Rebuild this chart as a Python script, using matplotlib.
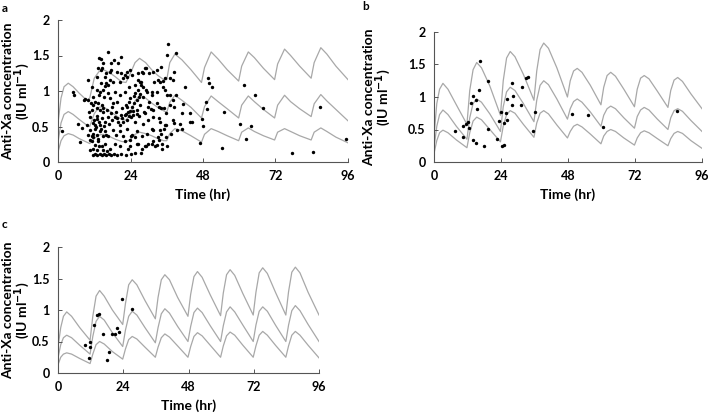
import matplotlib
matplotlib.use("Agg")
import matplotlib.pyplot as plt

# ---- data: simulated percentile curves (hr, IU/ml) ----
# panel a
a_curve_t = [0, 1, 2, 3.4, 5, 7, 9.5, 10.5, 12, 13.5, 15, 17, 19, 21, 22.5, 24, 25.5, 27, 29, 31, 33, 35,
             36, 37, 38.7, 41, 44, 47.5, 48.5, 50.7, 53, 56, 59.8, 60.8, 63, 65, 68, 71.7, 72.7, 75, 77,
             80, 83.8, 84.8, 87, 89, 92, 96]
a_upper = [0.55, 0.9, 1.06, 1.11, 1.06, 0.97, 0.87, 0.9, 1.18, 1.27, 1.3, 1.26, 1.2, 1.13, 1.12, 1.25,
           1.4, 1.46, 1.4, 1.3, 1.22, 1.16, 1.16, 1.4, 1.52, 1.44, 1.3, 1.12, 1.33, 1.55, 1.45, 1.3, 1.14,
           1.35, 1.55, 1.47, 1.32, 1.16, 1.38, 1.59, 1.5, 1.35, 1.18, 1.4, 1.61, 1.52, 1.35, 1.16]
a_median = [0.28, 0.55, 0.67, 0.71, 0.67, 0.6, 0.52, 0.5, 0.68, 0.77, 0.78, 0.72, 0.66, 0.6, 0.59, 0.68,
            0.86, 0.94, 0.9, 0.83, 0.77, 0.72, 0.7, 0.84, 0.94, 0.87, 0.77, 0.62, 0.78, 0.93, 0.85, 0.75,
            0.62, 0.8, 0.93, 0.85, 0.74, 0.62, 0.8, 0.94, 0.85, 0.75, 0.64, 0.82, 0.95, 0.86, 0.74, 0.58]
a_lower = [0.14, 0.3, 0.37, 0.4, 0.38, 0.33, 0.28, 0.26, 0.33, 0.38, 0.39, 0.36, 0.32, 0.29, 0.28, 0.32,
           0.39, 0.42, 0.4, 0.37, 0.33, 0.3, 0.3, 0.4, 0.47, 0.44, 0.37, 0.28, 0.39, 0.47, 0.43, 0.37,
           0.3, 0.42, 0.48, 0.43, 0.37, 0.31, 0.42, 0.47, 0.43, 0.37, 0.31, 0.42, 0.48, 0.43, 0.35, 0.27]

# panels b and c share the same time grid (12 h dosing)
bc_curve_t = [0, 1, 2, 3.2, 5, 8, 11.8, 12.8, 14, 15.3, 17, 20, 23.8, 24.8, 26, 27.3, 29, 32, 35.8, 36.8,
              38, 39.3, 41, 44, 47.8, 48.8, 50, 51.3, 53, 56, 59.8, 60.8, 62, 63.3, 65, 68, 71.8, 72.8,
              74, 75.3, 77, 80, 83.8, 84.8, 86, 87.3, 89, 92, 96]
b_upper = [0.4, 0.9, 1.12, 1.21, 1.12, 0.88, 0.58, 1.1, 1.42, 1.53, 1.45, 1.17, 0.72, 1.25, 1.6, 1.7,
           1.62, 1.35, 0.95, 1.4, 1.73, 1.83, 1.75, 1.45, 1.0, 1.25, 1.4, 1.44, 1.38, 1.18, 0.88, 1.15,
           1.33, 1.38, 1.32, 1.12, 0.85, 1.12, 1.29, 1.33, 1.28, 1.09, 0.84, 1.1, 1.26, 1.3, 1.24, 1.05, 0.82]
b_median = [0.22, 0.55, 0.73, 0.8, 0.73, 0.55, 0.35, 0.68, 0.9, 0.97, 0.92, 0.74, 0.47, 0.85, 1.08, 1.15,
            1.1, 0.9, 0.62, 0.95, 1.18, 1.25, 1.19, 0.97, 0.66, 0.82, 0.93, 0.97, 0.92, 0.77, 0.55, 0.72,
            0.82, 0.86, 0.82, 0.68, 0.52, 0.7, 0.8, 0.84, 0.8, 0.66, 0.5, 0.68, 0.79, 0.82, 0.78, 0.64, 0.47]
b_lower = [0.13, 0.33, 0.45, 0.49, 0.45, 0.34, 0.22, 0.45, 0.63, 0.69, 0.65, 0.5, 0.31, 0.55, 0.73, 0.79,
           0.75, 0.58, 0.38, 0.6, 0.75, 0.79, 0.74, 0.57, 0.37, 0.47, 0.55, 0.58, 0.54, 0.43, 0.28, 0.4,
           0.47, 0.5, 0.47, 0.37, 0.26, 0.37, 0.45, 0.48, 0.45, 0.36, 0.25, 0.36, 0.44, 0.47, 0.44, 0.33, 0.21]
c_upper = [0.41, 0.72, 0.9, 0.97, 0.9, 0.72, 0.52, 0.9, 1.22, 1.31, 1.22, 1.0, 0.77, 1.1, 1.4, 1.48,
           1.4, 1.15, 0.86, 1.2, 1.48, 1.56, 1.48, 1.2, 0.9, 1.25, 1.53, 1.61, 1.52, 1.24, 0.91, 1.27,
           1.56, 1.64, 1.55, 1.26, 0.92, 1.28, 1.59, 1.67, 1.58, 1.28, 0.92, 1.29, 1.6, 1.68, 1.59, 1.28, 0.92]
c_median = [0.24, 0.45, 0.56, 0.6, 0.56, 0.44, 0.3, 0.58, 0.82, 0.9, 0.84, 0.64, 0.42, 0.68, 0.9, 0.98,
            0.92, 0.72, 0.48, 0.72, 0.94, 1.02, 0.95, 0.74, 0.5, 0.74, 0.96, 1.03, 0.96, 0.75, 0.5, 0.75,
            0.97, 1.05, 0.97, 0.76, 0.5, 0.76, 0.98, 1.05, 0.98, 0.76, 0.5, 0.76, 0.99, 1.07, 0.99, 0.77, 0.5]
c_lower = [0.13, 0.25, 0.3, 0.32, 0.3, 0.23, 0.15, 0.3, 0.45, 0.5, 0.46, 0.34, 0.22, 0.38, 0.53, 0.58,
           0.54, 0.41, 0.25, 0.41, 0.56, 0.62, 0.57, 0.43, 0.25, 0.42, 0.58, 0.64, 0.59, 0.44, 0.25, 0.43,
           0.59, 0.65, 0.6, 0.44, 0.25, 0.43, 0.6, 0.66, 0.6, 0.44, 0.25, 0.43, 0.6, 0.66, 0.6, 0.44, 0.24]

# ---- data: observed concentrations ----
a_obs_t = [1.3, 4.9, 5.2, 6.7, 7.3, 7.8, 8.6, 9.0, 9.8, 10.0, 9.5, 10.4, 10.8, 10.6, 10.0, 10.6, 10.6, 10.6,
           11.1, 11.1, 11.1, 11.1, 11.5, 11.5, 11.7, 11.7, 11.7, 11.7, 11.9, 12.3, 12.3, 12.3, 12.3, 12.6,
           12.8, 12.8, 12.8, 13.0, 13.0, 13.0, 13.0, 13.2, 13.4, 13.4, 13.4, 13.5, 13.7, 13.7, 13.7, 13.9,
           13.9, 13.9, 13.9, 14.1, 14.1, 14.2, 14.3, 14.5, 14.5, 14.5, 14.7, 14.8, 14.8, 15.0, 15.0, 15.0,
           15.0, 15.2, 15.3, 15.4, 15.6, 15.6, 15.6, 15.6, 15.9, 16.0, 16.0, 16.1, 16.1, 16.5, 16.7, 16.7,
           16.7, 16.7, 17.0, 17.1, 17.2, 17.2, 17.2, 17.4, 17.7, 17.7, 17.8, 17.8, 18.1, 18.2, 18.3, 18.7,
           18.9, 18.9, 18.9, 19.2, 19.2, 19.4, 19.4, 19.6, 19.8, 20.0, 20.5, 20.5, 20.5, 20.5, 20.5, 20.7,
           20.8, 20.9, 21.1, 21.1, 21.6, 21.6, 21.6, 22.1, 22.2, 22.2, 22.2, 22.5, 22.5, 22.7, 23.0, 23.0,
           23.0, 23.0, 23.3, 23.3, 23.6, 23.6, 23.6, 23.7, 23.7, 23.8, 23.8, 23.8, 24.1, 24.3, 24.4, 24.4,
           24.4, 24.7, 24.9, 25.2, 25.2, 25.4, 25.5, 25.5, 25.5, 26.0, 26.0, 26.0, 26.0, 26.3, 26.4, 26.5,
           26.6, 26.6, 26.9, 26.9, 27.2, 27.2, 27.2, 27.4, 27.6, 27.7, 27.7, 27.7, 28.2, 28.2, 28.3, 28.3,
           28.5, 28.7, 28.7, 28.8, 29.1, 29.1, 29.2, 29.4, 29.4, 29.8, 29.9, 29.9, 30.0, 30.1, 30.9, 31.0,
           31.0, 31.0, 31.1, 31.5, 31.6, 31.6, 31.6, 31.6, 31.9, 32.0, 32.7, 32.7, 32.8, 32.9, 33.2, 33.2,
           33.3, 33.3, 33.4, 33.7, 33.7, 33.8, 34.0, 34.2, 34.2, 34.3, 34.4, 34.8, 34.9, 35.1, 35.1, 35.3,
           35.3, 35.5, 35.8, 35.9, 35.9, 36.0, 36.0, 36.0, 36.4, 37.0, 37.0, 37.1, 37.3, 38.1, 38.2, 38.2,
           38.4, 38.4, 38.4, 39.2, 39.2, 39.3, 40.4, 41.1, 41.2, 41.9, 41.4, 43.6, 43.7, 44.2, 47.0, 47.7,
           48.1, 49.0, 49.4, 49.8, 50.0, 50.9, 54.2, 55.1, 60.3, 61.7, 62.3, 63.8, 65.2, 67.7, 77.6, 84.4,
           86.6, 95.5,
           11.5, 12.2, 13.0, 13.8, 14.5, 15.2, 16.0, 16.8, 17.6, 18.5, 19.5, 21.0, 22.5, 24.1, 25.4, 27.5]
a_obs_c = [0.43, 0.99, 0.94, 0.53, 0.28, 0.48, 0.87, 0.89, 1.16, 0.87, 0.52, 0.71, 0.83, 0.64, 0.38, 0.31,
           0.45, 0.17, 1.06, 0.73, 0.29, 0.36, 0.40, 0.55, 0.80, 0.92, 0.35, 0.19, 0.59, 0.85, 0.52, 0.46,
           0.24, 0.49, 1.01, 0.76, 0.60, 1.20, 0.65, 0.38, 0.17, 1.32, 0.83, 0.32, 0.29, 0.23, 1.46, 0.94,
           0.57, 0.99, 0.73, 0.52, 0.43, 1.11, 1.45, 0.46, 1.30, 0.80, 0.62, 0.22, 1.32, 0.70, 0.36, 1.39,
           1.02, 0.76, 0.17, 0.51, 0.92, 1.20, 1.07, 0.57, 0.43, 0.26, 0.38, 1.25, 1.11, 0.73, 0.15, 1.08,
           1.55, 0.97, 0.64, 0.36, 0.54, 1.27, 1.15, 0.90, 0.19, 0.69, 1.30, 1.40, 0.78, 0.59, 0.45, 1.13,
           0.83, 1.43, 0.99, 0.64, 0.26, 0.71, 0.38, 1.27, 0.85, 0.62, 1.40, 0.57, 1.12, 0.94, 0.52, 0.43,
           0.22, 1.48, 0.66, 1.25, 0.76, 0.62, 1.18, 0.57, 0.36, 1.23, 0.98, 0.66, 0.29, 0.80, 0.68, 1.27,
           1.20, 0.78, 0.59, 0.46, 0.71, 0.18, 1.06, 0.85, 0.65, 1.30, 0.31, 0.90, 0.72, 0.22, 0.63, 0.36,
           1.23, 0.78, 0.38, 0.66, 0.72, 0.93, 0.83, 0.35, 1.08, 0.97, 0.57, 0.87, 0.73, 0.43, 0.25, 0.68,
           1.25, 0.26, 1.15, 1.01, 0.91, 0.65, 1.12, 0.96, 0.80, 1.08, 1.13, 1.27, 0.36, 0.19, 1.25, 1.06,
           0.92, 0.54, 0.71, 1.33, 0.22, 0.69, 1.32, 0.23, 1.01, 0.98, 0.40, 0.25, 0.78, 0.59, 1.25, 0.85,
           0.74, 0.94, 0.47, 0.26, 0.99, 0.29, 1.27, 0.73, 0.63, 0.45, 1.12, 0.22, 0.99, 0.24, 0.83, 1.30,
           1.16, 0.35, 0.78, 0.62, 0.31, 1.13, 0.45, 0.57, 1.34, 0.76, 0.40, 0.19, 0.26, 1.06, 1.14, 0.76,
           0.46, 1.02, 0.52, 1.19, 0.52, 0.69, 0.35, 1.51, 0.94, 0.23, 1.66, 1.19, 0.94, 0.80, 0.40, 0.87,
           1.16, 0.59, 1.27, 0.78, 0.55, 1.53, 0.94, 0.45, 0.54, 0.69, 0.46, 1.05, 0.82, 0.69, 0.57, 0.56,
           0.27, 0.61, 0.51, 0.84, 0.74, 1.19, 1.11, 1.05, 0.20, 0.71, 0.54, 1.09, 0.32, 0.51, 0.95, 0.76,
           0.12, 0.14, 0.77, 0.33,
           0.10, 0.11, 0.10, 0.11, 0.10, 0.11, 0.10, 0.11, 0.10, 0.11, 0.10, 0.11, 0.10, 0.11, 0.12, 0.13]

b_obs_t = [7.5, 10.5, 10.3, 11.4, 12.1, 12.6, 13.3, 13.9, 14.9, 16.1, 15.3, 14.1, 15.1, 16.5, 17.9, 19.2,
           19.5, 22.5, 23.2, 24.0, 24.3, 24.9, 25.0, 25.7, 26.2, 26.0, 27.8, 28.2, 27.9, 31.2, 31.7, 33.0,
           33.6, 35.4, 36.2, 49.4, 55.1, 60.4, 87.0]
b_obs_c = [0.47, 0.38, 0.55, 0.58, 0.62, 0.52, 0.91, 1.01, 0.96, 1.10, 0.81, 0.34, 0.29, 1.56, 0.24, 1.24,
           0.51, 0.36, 0.63, 0.77, 0.24, 0.26, 0.60, 0.75, 0.65, 0.97, 1.22, 1.02, 0.87, 0.88, 1.15, 1.29,
           1.30, 0.48, 0.77, 0.74, 0.72, 0.54, 0.78]

c_obs_t = [10.0, 11.9, 11.9, 11.3, 13.4, 14.2, 14.9, 16.4, 18.6, 18.1, 19.9, 21.1, 21.7, 22.3, 23.4, 27.3]
c_obs_c = [0.44, 0.50, 0.42, 0.24, 0.76, 0.92, 0.93, 0.62, 0.33, 0.20, 0.62, 0.62, 0.72, 0.65, 1.18, 1.01]

x_ticks = [0, 24, 48, 72, 96]
y_ticks = [0, 0.5, 1, 1.5, 2]
y_tick_labels = ["0", "0.5", "1", "1.5", "2"]

plt.rcParams['font.family'] = ['Lato', 'DejaVu Sans']
plt.rcParams['font.weight'] = 'bold'
plt.rcParams['mathtext.default'] = 'bf'

fig = plt.figure(figsize=(7.08, 4.13), dpi=100)
W, H = 708, 413

# letter, axes box in pixels (left, y of 2, x of 96, y of 0), curves, observations,
# letter position, right edge of the y label (pixels)
panels = [
    ("a", (58, 20, 348, 162), a_curve_t, (a_upper, a_median, a_lower), a_obs_t, a_obs_c, (2, 8), 32),
    ("b", (434, 32, 702, 162), bc_curve_t, (b_upper, b_median, b_lower), b_obs_t, b_obs_c, (362, 7), 393),
    ("c", (58, 247, 319, 373), bc_curve_t, (c_upper, c_median, c_lower), c_obs_t, c_obs_c, (2, 225), 32),
]

for letter, (l, t, r, b), ct, curves, ot, oc, (lx, ly), lab_x in panels:
    ax = fig.add_axes([l / W, 1 - b / H, (r - l) / W, (b - t) / H])
    for cv in curves:
        ax.plot(ct, cv, color="#a8a8a8", lw=0.9, zorder=1)
    ax.scatter(ot, oc, s=6, color="black", zorder=2, linewidths=0)

    ax.set_xlim(0, 96)
    ax.set_ylim(0, 2)
    ax.set_xticks(x_ticks)
    ax.set_yticks(y_ticks)
    ax.set_yticklabels(y_tick_labels)
    ax.tick_params(direction="in", length=3, width=0.7, labelsize=9, pad=6, color="#555555")
    for s in ["top", "right"]:
        ax.spines[s].set_visible(False)
    for s in ["left", "bottom"]:
        ax.spines[s].set_linewidth(0.8)
        ax.spines[s].set_color("#555555")

    ax.set_xlabel("Time (hr)", fontsize=10, fontweight="bold", labelpad=4)
    ax.set_ylabel("Anti-Xa concentration\n(IU ml$^{-1}$)", fontsize=10, fontweight="bold",
                  linespacing=0.85)
    ax.yaxis.set_label_coords((lab_x - l) / (r - l), 0.5)

    fig.text(lx / W, 1 - ly / H, letter, fontsize=8.5, fontweight="bold", va="center", ha="left")

fig.savefig("out.png", dpi=100)
